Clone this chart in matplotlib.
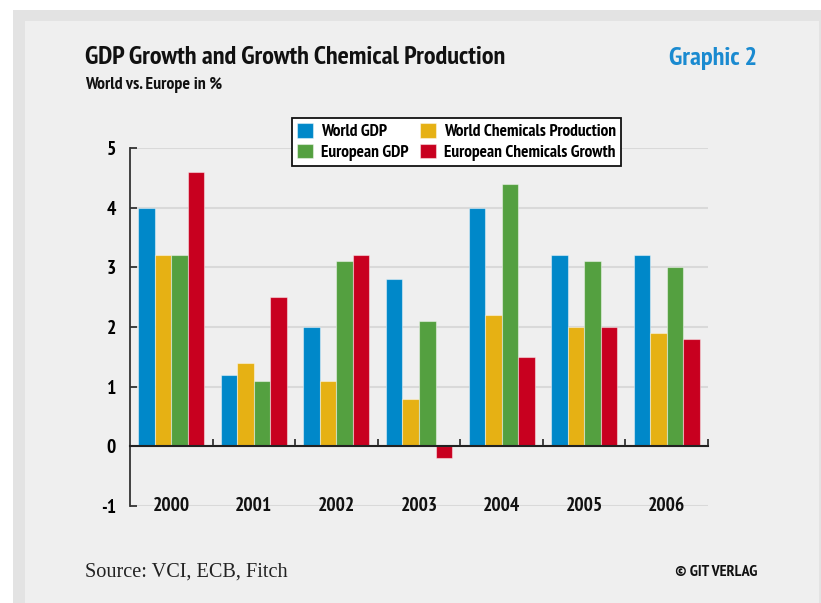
import numpy as np
import matplotlib.pyplot as plt
import matplotlib.patches as mpatches
from matplotlib.ticker import FixedLocator

# ── Data ──────────────────────────────────────────────
YEARS = ['2000', '2001', '2002', '2003', '2004', '2005', '2006']
WORLD_GDP = [4.0, 1.2, 2.0, 2.8, 4.0, 3.2, 3.2]
WORLD_CHEM = [3.2, 1.4, 1.1, 0.8, 2.2, 2.0, 1.9]
EURO_GDP = [3.2, 1.1, 3.1, 2.1, 4.4, 3.1, 3.0]
EURO_CHEM = [4.6, 2.5, 3.2, -0.2, 1.5, 2.0, 1.8]

SERIES = ['World GDP', 'World Chemicals Production',
          'European GDP', 'European Chemicals Growth']
COLORS = ['#0088c9', '#e6b114', '#54a040', '#c8001f']

FONT = ['PT Sans Narrow', 'DejaVu Sans']
plt.rcParams['font.family'] = FONT
plt.rcParams['axes.unicode_minus'] = False

fig = plt.figure(figsize=(8.21, 6.03), dpi=100)
fig.patch.set_facecolor('white')

# page background: grey frame + light panel
fig.patches.append(mpatches.Rectangle((13/821, 0), 1, 1 - 10/603,
                                      transform=fig.transFigure,
                                      facecolor='#e3e3e3', edgecolor='none', zorder=-2))
fig.patches.append(mpatches.Rectangle((25/821, 0), (819 - 25)/821, 1 - 21/603,
                                      transform=fig.transFigure,
                                      facecolor='#efefef', edgecolor='none', zorder=-1))

ax = fig.add_axes([130/821, 97/603, 578/821, 358/603])
ax.set_facecolor('none')

x = np.arange(len(YEARS))
w = 0.2
values = [WORLD_GDP, WORLD_CHEM, EURO_GDP, EURO_CHEM]
handles = []
for i, (vals, col, name) in enumerate(zip(values, COLORS, SERIES)):
    b = ax.bar(x + (i - 1.5) * w, vals, w, color=col,
               edgecolor=(1, 1, 1, 0.45), linewidth=0.8, label=name, zorder=3)
    handles.append(b)

ax.set_xlim(-0.5, len(YEARS) - 0.5)
ax.set_ylim(-1, 5)
ax.set_yticks(range(-1, 6))
ax.yaxis.grid(True, color='#d9d9d9', linewidth=1.5, zorder=0)
ax.set_axisbelow(True)

for s in ['top', 'right']:
    ax.spines[s].set_visible(False)
ax.spines['bottom'].set_position(('data', 0))
ax.spines['bottom'].set_color('#222222')
ax.spines['bottom'].set_linewidth(1.5)
ax.spines['bottom'].set_zorder(4)
ax.spines['left'].set_color('#333333')
ax.spines['left'].set_linewidth(1.3)

ax.set_xticks(x)
ax.set_xticklabels([])
ax.tick_params(axis='x', which='major', length=0)
ax.xaxis.set_minor_locator(FixedLocator(np.arange(0.5, len(YEARS), 1.0)))
ax.tick_params(axis='x', which='minor', direction='in', length=5, width=1.3, color='#333333')
ax.tick_params(axis='y', direction='in', length=5, width=1.3, color='#333333',
               labelsize=14, pad=10)
for lab in ax.get_yticklabels():
    lab.set_fontweight('bold')

for xi, yr in zip(x, YEARS):
    ax.text(xi, -1, yr, ha='center', va='center', fontsize=14,
            fontweight='bold', color='#111111')

order = [0, 2, 1, 3]
leg = fig.legend([handles[i] for i in order], [SERIES[i] for i in order],
                 ncol=2, loc='upper left', bbox_to_anchor=(292/821, 1 - 118/603),
                 frameon=True, fancybox=False, edgecolor='#111111', facecolor='white',
                 prop={'family': FONT, 'weight': 'bold', 'size': 12.5},
                 handlelength=0.9, handleheight=0.9, handletextpad=0.45,
                 columnspacing=0.7, labelspacing=0.2, borderpad=0.3,
                 borderaxespad=0)
leg.get_frame().set_linewidth(1.3)
leg.get_frame().set_alpha(1)

fig.text(85/821, 1 - 58/603, 'GDP Growth and Growth Chemical Production',
         fontsize=19, fontweight='bold', color='#111111', va='center', ha='left')
fig.text(85/821, 1 - 85/603, 'World vs. Europe in %',
         fontsize=12.8, fontweight='bold', color='#111111', va='center', ha='left')
fig.text(757/821, 1 - 58/603, 'Graphic 2',
         fontsize=19, fontweight='bold', color='#1a8ad0', va='center', ha='right')
fig.text(85/821, 1 - 572/603, 'Source: VCI, ECB, Fitch',
         fontsize=14.6, family='Liberation Serif', color='#222222', va='center', ha='left')
fig.text(757/821, 1 - 572/603, '© GIT VERLAG',
         fontsize=11.5, fontweight='bold', color='#111111', va='center', ha='right')

fig.savefig('out.png', dpi=100)
